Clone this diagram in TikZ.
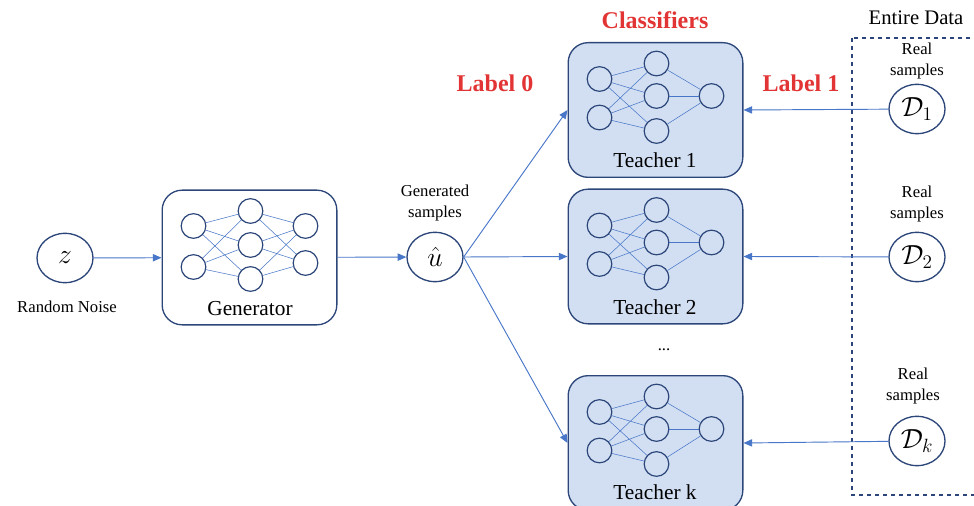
\documentclass[tikz,border=0pt]{standalone}
\usepackage{fontspec}
\setmainfont{Liberation Serif}
\usepackage{xcolor}
\usepackage{tikz}
\usetikzlibrary{arrows.meta,positioning,shapes.geometric}

\definecolor{navy}{RGB}{44,70,122}
\definecolor{linkblue}{RGB}{72,118,200}
\definecolor{boxfill}{RGB}{210,223,242}
\definecolor{labelred}{RGB}{226,52,52}

\tikzset{
 neuron/.style={circle,draw=navy,line width=0.9pt,minimum size=18.5pt,inner sep=0pt},
 link/.style={draw=linkblue,line width=0.4pt},
 pics/gennet/.style={code={
  \node[neuron] (-i1) at (-56,-31.5) {};
  \node[neuron] (-i2) at (-56,9.5) {};
  \node[neuron] (-h1) at (1,-46.5) {};
  \node[neuron] (-h2) at (1,-12.5) {};
  \node[neuron] (-h3) at (1,21.5) {};
  \node[neuron] (-o1) at (56,-31.5) {};
  \node[neuron] (-o2) at (56,5.5) {};
  \foreach \a in {i1,i2} \foreach \b in {h1,h2,h3} \draw[link] (-\a) -- (-\b);
  \foreach \a in {h1,h2,h3} \foreach \b in {o1,o2} \draw[link] (-\a) -- (-\b);
 }},
 pics/teachnet/.style={code={
  \node[neuron] (-i1) at (-56,-31) {};
  \node[neuron] (-i2) at (-56,7.5) {};
  \node[neuron] (-h1) at (1,-46.5) {};
  \node[neuron] (-h2) at (1,-14) {};
  \node[neuron] (-h3) at (1,21) {};
  \node[neuron] (-o1) at (56,-14) {};
  \foreach \a in {i1,i2} \foreach \b in {h1,h2,h3} \draw[link] (-\a) -- (-\b);
  \foreach \a in {h1,h2,h3} \draw[link] (-\a) -- (-o1);
 }}
}

\begin{document}
\begin{tikzpicture}[x=0.75pt,y=-0.75pt,>={Triangle[length=6.5pt,width=5.5pt]},
 netbox/.style={draw=navy,line width=1pt,rounded corners=15pt,minimum width=131pt,minimum height=101pt,inner sep=0pt},
 var/.style={ellipse,draw=navy,line width=1pt,minimum width=42pt,minimum height=37pt,inner sep=0pt,font=\fontsize{22}{24}\selectfont},
 boxtext/.style={font=\fontsize{16}{18}\selectfont,inner sep=0pt},
 small/.style={font=\fontsize{12.5}{15.5}\selectfont,align=center,inner sep=0pt},
 redtext/.style={font=\fontsize{18}{20}\selectfont\bfseries,text=labelred,inner sep=0pt},
 arrow/.style={->,draw=linkblue,line width=0.7pt,color=linkblue}]
\useasboundingbox (0,0) rectangle (974,506);

% generator side
\node[var] (z) at (65,258) {$z$};
\node[small] (noise) at (67,307) {Random Noise};
\node[netbox] (gen) at (249.5,257.5) {};
\pic (g) at (gen.center) {gennet};
\node[boxtext] (gentxt) at (250,309) {Generator};
\node[var] (u) at (435,257) {$\hat{u}$};
\node[small] (gensmp) at (435,203) {Generated\\samples};

% teachers
\node[netbox,fill=boxfill] (t1) at (655.5,110) {};
\pic (a) at (t1.center) {teachnet};
\node[boxtext] (t1txt) at (655,160) {Teacher 1};
\node[netbox,fill=boxfill] (t2) at (655.5,256.5) {};
\pic (b) at (t2.center) {teachnet};
\node[boxtext] (t2txt) at (655,307) {Teacher 2};
\node[netbox,fill=boxfill] (tk) at (655.5,443) {};
\pic (c) at (tk.center) {teachnet};
\node[boxtext] (tktxt) at (655,492) {Teacher k};
\node[small] (dots) at (664,350) {...};

\node[redtext] (cls) at (655,20) {Classifiers};
\node[redtext] (lbl0) at (495,83) {Label 0};
\node[redtext] (lbl1) at (801,83) {Label 1};

% real data
\draw[navy,line width=0.9pt,dashed] (852,38) rectangle (990,495);
\node[font=\fontsize{15.5}{18}\selectfont,inner sep=0pt] (entire) at (916,18) {Entire Data};
\node[var] (d1) at (917,109) {$\mathcal{D}_1$};
\node[small] (r1) at (917,61) {Real\\samples};
\node[var] (d2) at (917,257) {$\mathcal{D}_2$};
\node[small] (r2) at (917,204) {Real\\samples};
\node[var] (dk) at (917,441) {$\mathcal{D}_k$};
\node[small] (rk) at (913,386) {Real\\samples};

\draw[arrow] (z) -- (gen);
\draw[arrow] (gen) -- (u);
\draw[arrow] (u.east) -- (t1.west);
\draw[arrow] (u.east) -- (t2.west);
\draw[arrow] (u.east) -- (tk.west);
\draw[arrow] (d1) -- (t1.east);
\draw[arrow] (d2) -- (t2.east);
\draw[arrow] (dk) -- (tk.east);
\end{tikzpicture}
\end{document}
